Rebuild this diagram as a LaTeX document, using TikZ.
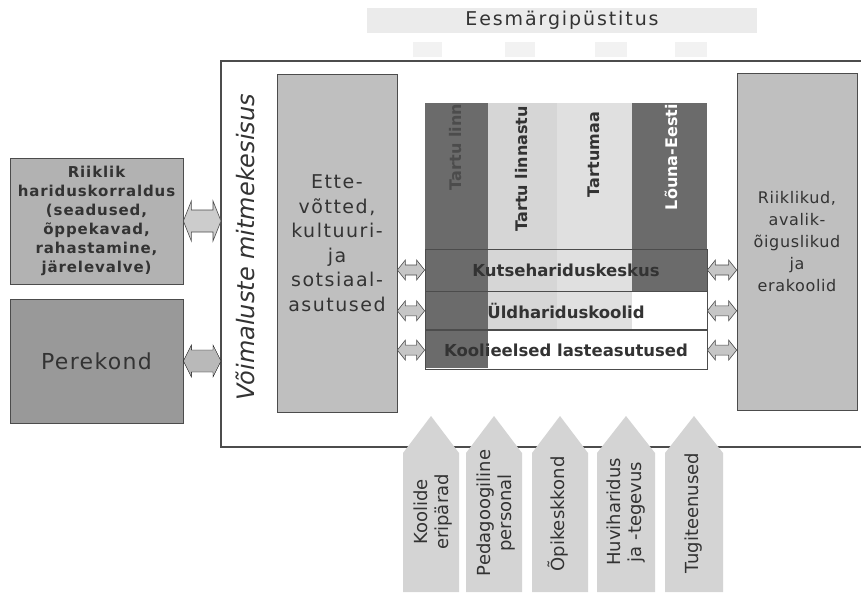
\documentclass[tikz,border=0pt]{standalone}
\usepackage{fontspec}
\setmainfont{DejaVu Sans}
\usetikzlibrary{positioning,calc}

\definecolor{inkgray}{gray}{0.2}
\definecolor{linegray}{gray}{0.3}
\definecolor{boxgray}{gray}{0.75}
\definecolor{rulegray}{gray}{0.70}
\definecolor{famgray}{gray}{0.60}
\definecolor{coldark}{gray}{0.42}
\definecolor{collight}{gray}{0.84}
\definecolor{colpale}{gray}{0.88}
\definecolor{arrowgray}{gray}{0.83}
\definecolor{bannergray}{gray}{0.92}
\definecolor{stubgray}{gray}{0.95}

\tikzset{
  two way/.style args={#1/#2/#3}{to path={let \p1=(\tikztostart), \p2=(\tikztotarget) in
    (\x1,\y1) -- (\x1+#1,\y1+#2) -- (\x1+#1,\y1+#3) -- (\x2-#1,\y1+#3)
    -- (\x2-#1,\y1+#2) -- (\x2,\y1) -- (\x2-#1,\y1-#2) -- (\x2-#1,\y1-#3)
    -- (\x1+#1,\y1-#3) -- (\x1+#1,\y1-#2) -- cycle}}
}

\begin{document}
\begin{tikzpicture}[x=1pt,y=-1pt,
    box node/.style={draw=linegray, line width=0.7pt, align=center, inner sep=0pt, text=inkgray},
    col node/.style={anchor=north west, inner sep=0pt, outer sep=0pt},
    col label/.style={rotate=90, anchor=east, inner sep=0pt, font=\bfseries\fontsize{16}{18}\selectfont},
    row node/.style={draw=linegray, line width=0.8pt, minimum width=282pt, inner sep=0pt,
      text=inkgray, font=\bfseries\fontsize{16.5}{18}\selectfont},
    small arrow/.style={draw=linegray, line width=0.6pt, fill=gray!45, two way=8pt/10pt/5pt},
    big arrow/.style={draw=linegray, line width=0.6pt, fill=gray!40, two way=8pt/20pt/11pt},
    fam arrow/.style={fill=gray!55, two way=8pt/16pt/11pt},
    up arrow/.style={fill=arrowgray},
    arrow label/.style={rotate=90, align=center, inner sep=0pt, text=inkgray,
      font=\fontsize{18}{21}\selectfont}]
 \useasboundingbox (0,0) rectangle (861,592);
 \fill[white] (0,0) rectangle (861,592);

 % goal on top
 \node[fill=bannergray, minimum width=390pt, minimum height=25pt, text=inkgray,
   font=\addfontfeature{LetterSpace=10}\fontsize{19}{22}\selectfont] (goal) at (562,20.5) {Eesmärgipüstitus};
 \fill[stubgray] (413,42) rectangle (442,57);
 \fill[stubgray] (505,42) rectangle (535,57);
 \fill[stubgray] (595,42) rectangle (627,57);
 \fill[stubgray] (675,42) rectangle (707,57);

 % frame
 \draw[linegray, line width=1.3pt] (861,61) -| (221,447) -- (861,447);
 \node[rotate=90, inner sep=0pt, text=inkgray, font=\itshape\fontsize{24}{28}\selectfont] (vm) at (245,247) {Võimaluste mitmekesisus};

 % side boxes
 \node[box node, fill=boxgray, minimum width=120pt, minimum height=338pt,
   font=\addfontfeature{LetterSpace=8}\fontsize{19}{24.5}\selectfont] (ette) at (337,243)
   {Ette-\\võtted,\\kultuuri-\\ja\\sotsiaal-\\asutused};
 \node[box node, fill=boxgray, minimum width=120pt, minimum height=337pt,
   font=\addfontfeature{LetterSpace=4}\fontsize{16}{22}\selectfont] (riigi) at (797,241.5)
   {Riiklikud,\\avalik-\\õiguslikud\\ja\\erakoolid};
 \node[box node, fill=rulegray, minimum width=173pt, minimum height=126pt,
   font=\bfseries\addfontfeature{LetterSpace=6}\fontsize{15}{19}\selectfont] (riik) at (96.5,221)
   {Riiklik\\hariduskorraldus\\(seadused,\\õppekavad,\\rahastamine,\\järelevalve)};
 \node[box node, fill=famgray, minimum width=173pt, minimum height=124pt,
   font=\addfontfeature{LetterSpace=6}\fontsize{22}{26}\selectfont] (perek) at (96.5,361) {Perekond};

 % regions
 \node[col node, fill=coldark, minimum width=63pt, minimum height=265pt] (c1) at (425,103) {};
 \node[col node, fill=collight, minimum width=69pt, minimum height=226pt] (c2) at (488,103) {};
 \node[col node, fill=colpale, minimum width=75pt, minimum height=226pt] (c3) at (557,103) {};
 \node[col node, fill=coldark, minimum width=75pt, minimum height=188pt] (c4) at (632,103) {};
 \node[col label, text=gray!60!black] (l1) at (456,104) {Tartu linn};
 \node[col label, text=inkgray] (l2) at (522,106) {Tartu linnastu};
 \node[col label, text=inkgray] (l3) at (594,112) {Tartumaa};
 \node[col label, text=white] (l4) at (671,104) {Lõuna-Eesti};

 % school levels
 \node[row node, minimum height=42pt] (r1) at (566,270) {Kutsehariduskeskus};
 \node[row node, minimum height=38pt, below=0pt of r1] (r2) {Üldhariduskoolid};
 \node[row node, minimum height=39pt, below=0pt of r2] (r3) {Koolieelsed lasteasutused};

 % links
 \draw[small arrow] (ette.east |- r1.center) to (r1.west);
 \draw[small arrow] (ette.east |- r2.center) to (r2.west);
 \draw[small arrow] (ette.east |- r3.center) to (r3.west);
 \draw[small arrow] (r1.east) to (riigi.west |- r1.center);
 \draw[small arrow] (r2.east) to (riigi.west |- r2.center);
 \draw[small arrow] (r3.east) to (riigi.west |- r3.center);
 \coordinate (fr1) at (221,221);
 \coordinate (fr2) at (221,361);
 \draw[big arrow] (riik.east) to (fr1);
 \draw[fam arrow] (perek.east) to (fr2);

 % inputs from below
 \fill[up arrow] (403,592) -- (403,453) -- (431,416) -- (459,453) -- (459,592) -- cycle;
 \fill[up arrow] (466,592) -- (466,453) -- (494,416) -- (522,453) -- (522,592) -- cycle;
 \fill[up arrow] (532,592) -- (532,453) -- (560,416) -- (588,453) -- (588,592) -- cycle;
 \fill[up arrow] (597,592) -- (597,453) -- (626,416) -- (655,453) -- (655,592) -- cycle;
 \fill[up arrow] (665,592) -- (665,453) -- (694,416) -- (723,453) -- (723,592) -- cycle;
 \node[arrow label] (k1) at (433,512) {Koolide\\eripärad};
 \node[arrow label] (k2) at (496,513) {Pedagoogiline\\personal};
 \node[arrow label] (k3) at (558,514) {Õpikeskkond};
 \node[arrow label] (k4) at (626,512) {Huviharidus\\ja -tegevus};
 \node[arrow label] (k5) at (694,513) {Tugiteenused};
\end{tikzpicture}
\end{document}
